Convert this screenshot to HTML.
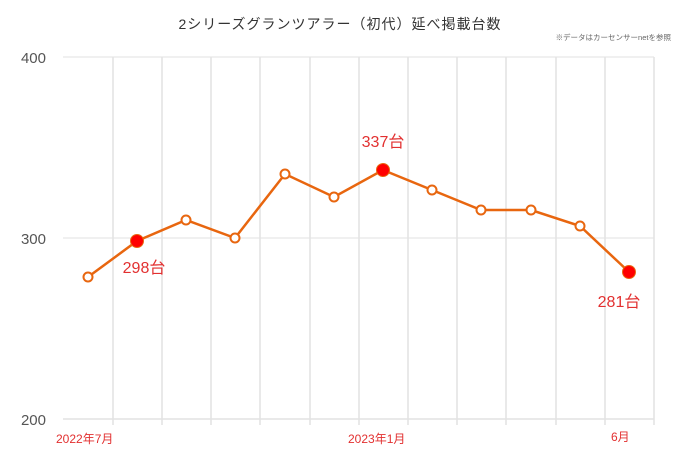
<!DOCTYPE html>
<html><head><meta charset="utf-8"><style>
body{margin:0;background:#fff;}
svg{display:block;font-family:"Liberation Sans","Noto Sans CJK JP",sans-serif;}
</style></head><body>
<svg width="680" height="460" xmlns="http://www.w3.org/2000/svg">
<rect width="680" height="460" fill="#fff"/>
<text x="340" y="29" text-anchor="middle" font-size="14" fill="#333" letter-spacing="1">2シリーズグランツアラー（初代）延べ掲載台数</text>
<text x="671" y="40" text-anchor="end" font-size="7.5" fill="#666">※データはカーセンサーnetを参照</text>
<g stroke="#e2e2e2" stroke-width="1.5">
<line x1="63" y1="57" x2="654" y2="57" stroke-width="1"/>
<line x1="63" y1="238" x2="654" y2="238" stroke-width="1"/>
<line x1="63" y1="419" x2="654" y2="419"/>
<line x1="113" y1="57" x2="113" y2="425"/><line x1="162" y1="57" x2="162" y2="425"/>
<line x1="211" y1="57" x2="211" y2="425"/><line x1="260" y1="57" x2="260" y2="425"/>
<line x1="310" y1="57" x2="310" y2="425"/><line x1="359" y1="57" x2="359" y2="425"/>
<line x1="408" y1="57" x2="408" y2="425"/><line x1="457" y1="57" x2="457" y2="425"/>
<line x1="506" y1="57" x2="506" y2="425"/><line x1="556" y1="57" x2="556" y2="425"/>
<line x1="605" y1="57" x2="605" y2="425"/><line x1="654" y1="57" x2="654" y2="425"/>
</g>
<g font-size="15" fill="#555" text-anchor="end">
<text x="46" y="63">400</text><text x="46" y="244">300</text><text x="46" y="425">200</text>
</g>
<g font-size="12" fill="#e23030">
<text x="56" y="443">2022年7月</text><text x="348" y="443">2023年1月</text><text x="611" y="441">6月</text>
</g>
<polyline fill="none" stroke="#e8660f" stroke-width="2.5" points="88,277 137,241 186,220 235,238 285,174 334,197 383,170 432,190 481,210 531,210 580,226 629,272"/>
<g fill="#fff" stroke="#e8660f" stroke-width="2">
<circle cx="88" cy="277" r="4.5"/><circle cx="186" cy="220" r="4.5"/><circle cx="235" cy="238" r="4.5"/>
<circle cx="285" cy="174" r="4.5"/><circle cx="334" cy="197" r="4.5"/><circle cx="432" cy="190" r="4.5"/>
<circle cx="481" cy="210" r="4.5"/><circle cx="531" cy="210" r="4.5"/><circle cx="580" cy="226" r="4.5"/>
</g>
<g fill="#f00" stroke="#e8660f" stroke-width="1">
<circle cx="137" cy="241" r="6.5"/><circle cx="383" cy="170" r="6.5"/><circle cx="629" cy="272" r="6.5"/>
</g>
<g font-size="16" fill="#e23030" text-anchor="middle">
<text x="144" y="273">298台</text><text x="383" y="147">337台</text><text x="619" y="307">281台</text>
</g>
</svg>
</body></html>
